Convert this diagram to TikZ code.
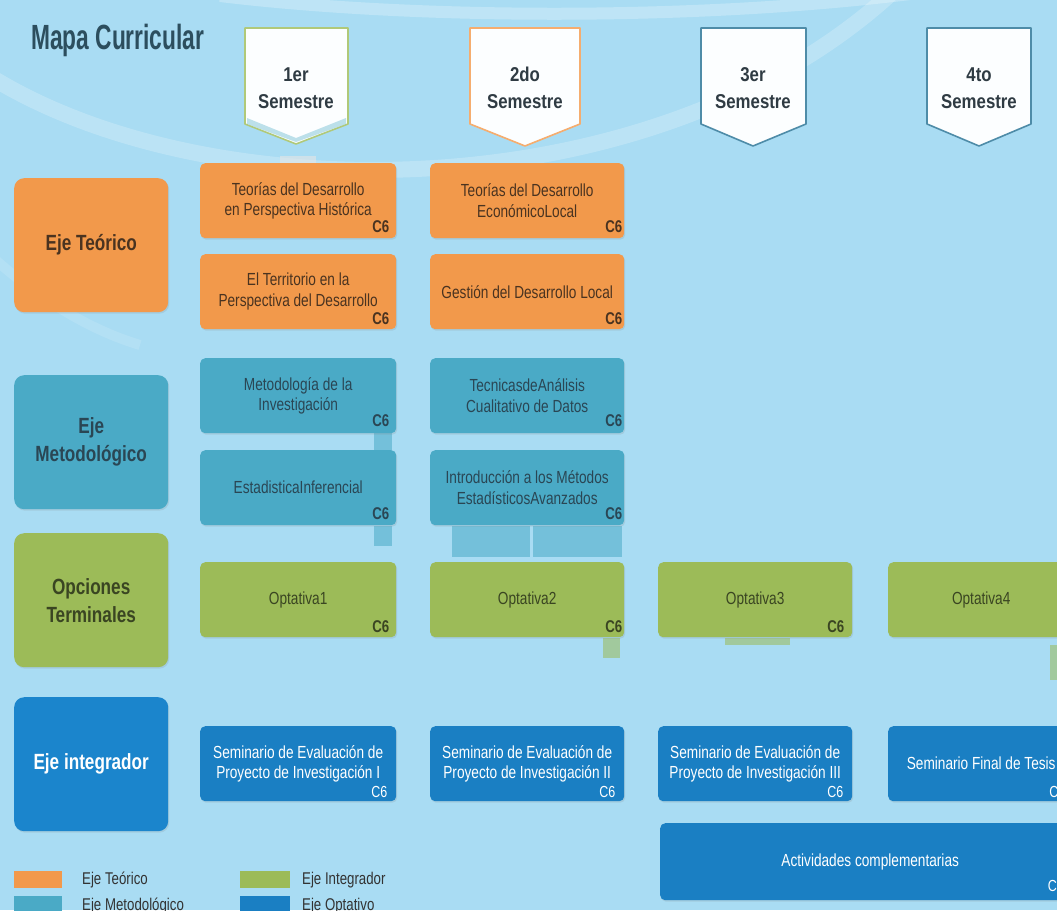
\documentclass[tikz,border=0pt]{standalone}
\usepackage{fontspec}
\setmainfont{Liberation Sans}
\newfontfamily\cf{Liberation Sans}[FakeStretch=0.78]
\newfontfamily\semfont{Liberation Sans}[FakeStretch=0.84]
\newfontfamily\tf{Liberation Sans}[FakeStretch=0.65]
\usetikzlibrary{shadows}
\definecolor{bg}{HTML}{A9DCF3}
\definecolor{orangeC}{HTML}{F2994B}
\definecolor{tealC}{HTML}{4AAAC6}
\definecolor{greenC}{HTML}{9CBB58}
\definecolor{blueC}{HTML}{1A7FC3}
\definecolor{blueL}{HTML}{1B85CC}
\definecolor{brownT}{HTML}{4A3320}
\definecolor{slateT}{HTML}{2A4654}
\definecolor{oliveT}{HTML}{3A4522}
\definecolor{titleT}{HTML}{2C4E5E}
\definecolor{semT}{HTML}{2F3B43}
\definecolor{semB}{HTML}{4E8CA8}
\tikzset{
  box/.style={rounded corners=5pt, minimum width=196pt, minimum height=75pt, inner sep=2pt,
    align=center, anchor=north west, font=\cf\fontsize{17.5}{20.5}\selectfont,
    drop shadow={opacity=0.18, shadow xshift=1pt, shadow yshift=-1.5pt}},
  tbox/.style={box, fill=orangeC, text=brownT},
  mbox/.style={box, fill=tealC, text=slateT},
  gbox/.style={box, fill=greenC, text=oliveT},
  bbox/.style={box, fill=blueC, text=white},
  lbl/.style={rounded corners=10pt, minimum width=154pt, minimum height=134pt, inner sep=2pt,
    align=center, anchor=north west, font=\cf\bfseries\fontsize{22}{28}\selectfont,
    drop shadow={opacity=0.18, shadow xshift=1pt, shadow yshift=-1.5pt}},
  cs/.style={font=\cf\bfseries\fontsize{17}{17}\selectfont, anchor=south east, inner sep=0pt},
  csw/.style={font=\cf\fontsize{16}{16}\selectfont, anchor=south east, inner sep=0pt, text=white},
  sem/.style={fill=white!97!bg, line width=1.6pt, line join=round},
  semtxt/.style={align=center, font=\semfont\bfseries\fontsize{20}{27}\selectfont, text=semT},
  leg/.style={minimum width=48pt, minimum height=17pt, anchor=north west, inner sep=0pt},
  legtxt/.style={anchor=west, font=\cf\fontsize{17}{17}\selectfont, text=black!80, inner sep=0pt},
  ghost/.style={fill=#1, opacity=0.55}
}
\begin{document}
\begin{tikzpicture}[x=1pt,y=-1pt]
\useasboundingbox (0,0) rectangle (1057,910);
\clip (0,0) rectangle (1057,910);
\fill[bg] (0,0) rectangle (1057,910);
% background light bands
\draw[white, opacity=0.22, line width=16pt] (-20,70) .. controls (200,215) and (660,215) .. (900,-15);
\draw[white, opacity=0.25, line width=12pt] (220,-4) .. controls (420,20) and (700,20) .. (910,-6);
\draw[white, opacity=0.12, line width=10pt] (-10,255) .. controls (40,300) and (90,330) .. (140,345);

% title
\node[anchor=west, inner sep=0pt, text=titleT, font=\tf\bfseries\fontsize{35}{35}\selectfont] (title) at (31,40) {Mapa Curricular};

% semester banners
\draw[sem, draw=greenC!80!white] (245,28) -- (348,28) -- (348,124) -- (296,144) -- (245,124) -- cycle;
\fill[tealC!60!white, opacity=0.6] (247,118) -- (296,138) -- (346,118) -- (346,124) -- (296,142) -- (247,124) -- cycle;
\node[semtxt] (s1) at (296,88) {1er\\Semestre};
\draw[sem, draw=orangeC!80!white] (470,28) -- (580,28) -- (580,124) -- (525,146) -- (470,124) -- cycle;
\node[semtxt] (s2) at (525,88) {2do\\Semestre};
\draw[sem, draw=semB] (701,28) -- (806,28) -- (806,124) -- (753,146) -- (701,124) -- cycle;
\node[semtxt] (s3) at (753,88) {3er\\Semestre};
\draw[sem, draw=semB] (927,28) -- (1031,28) -- (1031,124) -- (979,146) -- (927,124) -- cycle;
\node[semtxt] (s4) at (979,88) {4to\\Semestre};

% faint artifact pieces
\fill[white!80!gray, opacity=0.6] (280,156) rectangle (316,166);
\fill[ghost=tealC] (374,433) rectangle (392,450);
\fill[ghost=tealC] (374,526) rectangle (392,546);
\fill[ghost=tealC] (452,526) rectangle (530,557);
\fill[ghost=tealC] (533,526) rectangle (622,557);
\fill[ghost=greenC] (603,638) rectangle (620,658);
\fill[ghost=greenC] (725,638) rectangle (790,645);
\fill[ghost=greenC] (1050,645) rectangle (1057,680);

% row labels
\node[lbl, fill=orangeC, text=brownT] (lt) at (14,178) {Eje Teórico};
\node[lbl, fill=tealC, text=slateT] (lm) at (14,375) {Eje\\Metodológico};
\node[lbl, fill=greenC, text=oliveT] (lo) at (14,533) {Opciones\\Terminales};
\node[lbl, fill=blueL, text=white] (li) at (14,697) {Eje integrador};

% Eje teorico
\node[tbox] (t11) at (200,163) {Teorías del Desarrollo\\en Perspectiva Histórica};
\node[cs, text=brownT, xshift=-7pt, yshift=6pt] (t11c) at (t11.south east) {C6};
\node[tbox] (t12) at (200,254) {El Territorio en la\\Perspectiva del Desarrollo};
\node[cs, text=brownT, xshift=-7pt, yshift=5pt] (t12c) at (t12.south east) {C6};
\node[tbox, minimum width=194pt] (t21) at (430,163) {Teorías del Desarrollo\\EconómicoLocal};
\node[cs, text=brownT, xshift=-2pt, yshift=6pt] (t21c) at (t21.south east) {C6};
\node[tbox, minimum width=194pt] (t22) at (430,254) {Gestión del Desarrollo Local};
\node[cs, text=brownT, xshift=-2pt, yshift=5pt] (t22c) at (t22.south east) {C6};

% Eje metodologico
\node[mbox] (m11) at (200,358) {Metodología de la\\Investigación};
\node[cs, text=slateT, xshift=-7pt, yshift=7pt] (m11c) at (m11.south east) {C6};
\node[mbox] (m12) at (200,450) {EstadisticaInferencial};
\node[cs, text=slateT, xshift=-7pt, yshift=6pt] (m12c) at (m12.south east) {C6};
\node[mbox, minimum width=194pt] (m21) at (430,358) {TecnicasdeAnálisis\\Cualitativo de Datos};
\node[cs, text=slateT, xshift=-2pt, yshift=7pt] (m21c) at (m21.south east) {C6};
\node[mbox, minimum width=194pt] (m22) at (430,450) {Introducción a los Métodos\\EstadísticosAvanzados};
\node[cs, text=slateT, xshift=-2pt, yshift=6pt] (m22c) at (m22.south east) {C6};

% Opciones terminales
\node[gbox] (o1) at (200,562) {Optativa1};
\node[cs, text=oliveT, xshift=-7pt, yshift=5pt] (o1c) at (o1.south east) {C6};
\node[gbox, minimum width=194pt] (o2) at (430,562) {Optativa2};
\node[cs, text=oliveT, xshift=-2pt, yshift=5pt] (o2c) at (o2.south east) {C6};
\node[gbox, minimum width=194pt] (o3) at (658,562) {Optativa3};
\node[cs, text=oliveT, xshift=-8pt, yshift=5pt] (o3c) at (o3.south east) {C6};
\node[gbox, minimum width=186pt] (o4) at (888,562) {Optativa4};

% Eje integrador
\node[bbox] (i1) at (200,726) {Seminario de Evaluación de\\Proyecto de Investigación I};
\node[csw, xshift=-9pt, yshift=4pt] (i1c) at (i1.south east) {C6};
\node[bbox, minimum width=194pt] (i2) at (430,726) {Seminario de Evaluación de\\Proyecto de Investigación II};
\node[csw, xshift=-9pt, yshift=4pt] (i2c) at (i2.south east) {C6};
\node[bbox, minimum width=194pt] (i3) at (658,726) {Seminario de Evaluación de\\Proyecto de Investigación III};
\node[csw, xshift=-9pt, yshift=4pt] (i3c) at (i3.south east) {C6};
\node[bbox, minimum width=186pt] (i4) at (888,726) {Seminario Final de Tesis};
\node[csw, xshift=-9pt, yshift=4pt] (i4c) at (i4.south east) {C6};
\node[bbox, minimum width=420pt, minimum height=77pt] (act) at (660,823) {Actividades complementarias};
\node[csw, xshift=-4pt, yshift=8pt] (actc) at (1068,900) {C6};

% legend
\node[leg, fill=orangeC] (lg1) at (14,871) {};
\node[legtxt] (lg1t) at (82,880) {Eje Teórico};
\node[leg, fill=tealC] (lg2) at (14,896) {};
\node[legtxt] (lg2t) at (82,906) {Eje Metodológico};
\node[leg, fill=greenC, minimum width=50pt] (lg3) at (240,871) {};
\node[legtxt] (lg3t) at (302,880) {Eje Integrador};
\node[leg, fill=blueC, minimum width=50pt] (lg4) at (240,896) {};
\node[legtxt] (lg4t) at (302,906) {Eje Optativo};
\end{tikzpicture}
\end{document}
